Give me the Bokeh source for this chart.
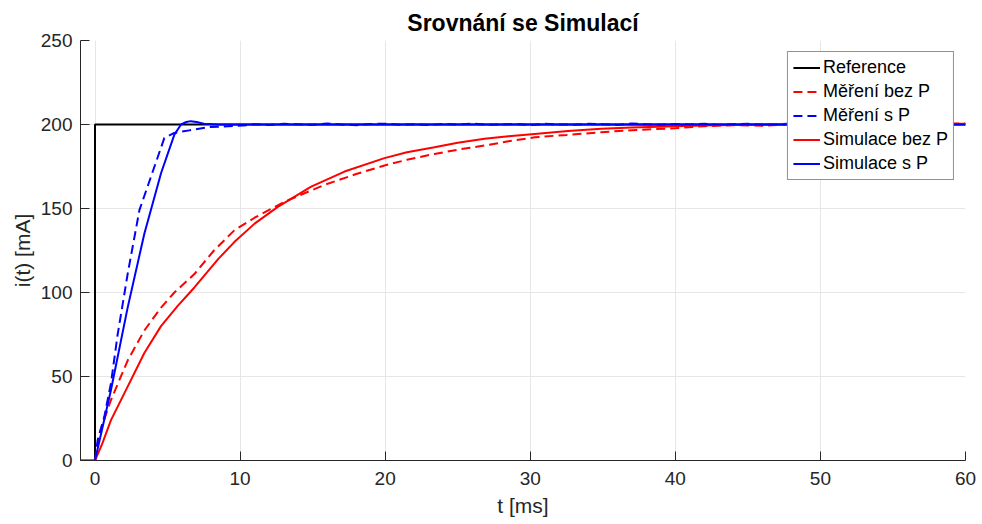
from bokeh.plotting import figure
from bokeh.models import Range1d, FixedTicker, Legend, LegendItem
from bokeh.embed import file_html
from bokeh.resources import INLINE

# ---------------- data ----------------
title_text = "Srovnání se Simulací"
x_label = "t [ms]"
y_label = "i(t) [mA]"
x_ticks = [0, 10, 20, 30, 40, 50, 60]
y_ticks = [0, 50, 100, 150, 200, 250]

ref_t = [-1, 0, 0, 60]
ref_i = [0, 0, 200, 200]

# Měření bez P (measured, without P)
mbez_t = [0, 0.3, 1.1, 2.25, 3.4, 4.55, 5.47, 6.85, 8.2, 9.6, 11, 13.05, 15.8, 18, 19.95,
          21.5, 23.4, 25, 26.85, 28.5, 30.3, 32.5, 34.9, 37, 38.5, 40, 42, 44, 46, 48, 50,
          52, 54, 56, 58, 60]
mbez_i = [0, 16, 36, 59.5, 77.4, 91, 100, 111, 125, 137, 144.5, 154, 164, 170.5, 175.6,
          179.0, 182.5, 185.0, 187.5, 190.0, 192.4, 193.8, 195.4, 196.6, 197.2, 197.8, 199.0,
          199.6, 199.3, 200.1, 199.8, 200.3, 199.9, 200.2, 200.4, 200.6]

# Měření s P (measured, with P)
ms_t = [0, 0.18, 0.64, 1.1, 1.56, 2.25, 3.06, 3.86, 4.78, 5.47, 6.5, 7.8, 9.2, 10.5,
        11, 12, 13, 14, 15, 16, 17, 18, 19, 20, 21, 22, 23, 24, 25, 26, 27, 28, 29, 30,
        31, 32, 33, 34, 35, 36, 37, 38, 39, 40, 41, 42, 43, 44, 45, 46, 47, 48, 49, 50,
        51, 52, 53, 54, 55, 56, 57, 58, 59, 60]
ms_i = [0, 12, 26, 46, 75, 111, 149, 169, 192, 195, 196.5, 198.4, 199, 199.6,
        200.2, 199.7, 200.4, 200.1, 199.8, 200.6, 200.0, 199.6, 200.3, 200.5, 199.9,
        200.2, 199.7, 200.4, 200.0, 200.6, 199.8, 200.1, 200.3, 199.6, 200.5, 200.0,
        199.9, 200.4, 200.2, 199.7, 200.6, 200.1, 199.8, 200.3, 200.0, 200.5, 199.7,
        200.2, 200.4, 199.9, 200.1, 200.6, 199.8, 200.3, 200.0, 199.7, 200.4, 200.2,
        199.9, 200.5, 200.1, 199.8, 200.3, 200.0]

# Simulace bez P
sbez_t = [0, 0.5, 1.1, 2.25, 3.4, 4.55, 5.7, 6.85, 8.5, 9.6, 11, 12.6, 14.9, 17.2, 19.95,
          21.5, 23.4, 25, 26.85, 28.5, 30.3, 32.6, 34.9, 37, 40, 42, 46, 50, 55, 60]
sbez_i = [0, 10, 24, 44, 64, 80, 92, 103, 120, 130, 141, 151, 163, 172, 180,
          183.5, 186.5, 189.2, 191.5, 193.0, 194.4, 196.2, 197.4, 198.2, 198.9, 199.4,
          200, 200, 200.2, 200.5]

# Simulace s P
ss_t = [0, 1.1, 2.25, 3.4, 4.55, 5.47, 5.93, 6.3, 6.6, 7.0, 7.5, 8.5, 10, 60]
ss_i = [0, 42, 91, 135, 171, 194, 200, 201.5, 202, 201.5, 200.5, 200, 200, 200]

# ---------------- figure ----------------
FONT = "Liberation Sans"
TXT = "#262626"

p = figure(frame_width=885, frame_height=420,
           min_border_left=80, min_border_right=17, min_border_top=40, min_border_bottom=64,
           x_range=Range1d(-1, 60), y_range=Range1d(0, 250),
           output_backend="svg", toolbar_location=None,
           background_fill_color="white", border_fill_color="white")
p.outline_line_color = None

p.title.text = title_text
p.title.align = "center"
p.title.text_font = FONT
p.title.text_font_size = "23px"
p.title.text_font_style = "bold"
p.title.text_color = "#000000"
p.title.standoff = 10

for ax, ticks, lab in ((p.xaxis[0], x_ticks, x_label), (p.yaxis[0], y_ticks, y_label)):
    ax.ticker = FixedTicker(ticks=ticks)
    ax.axis_label = lab
    ax.axis_label_text_font = FONT
    ax.axis_label_text_font_size = "21px"
    ax.axis_label_text_font_style = "normal"
    ax.axis_label_text_color = TXT
    ax.major_label_text_font = FONT
    ax.major_label_text_font_size = "19px"
    ax.major_label_text_color = TXT
    ax.axis_line_color = TXT
    ax.major_tick_line_color = TXT
    ax.major_tick_in = 9
    ax.major_tick_out = 0
    ax.minor_tick_line_color = None

p.xaxis.major_label_standoff = 11
p.xaxis.axis_label_standoff = 6
p.yaxis.major_label_standoff = 8
p.yaxis.axis_label_standoff = 4

p.xgrid.ticker = FixedTicker(ticks=x_ticks)
p.ygrid.ticker = FixedTicker(ticks=y_ticks)
p.grid.grid_line_color = "#e6e6e6"
p.grid.grid_line_width = 1

W = 2
r_ref = p.line(ref_t, ref_i, line_color="black", line_width=W)
r_mbez = p.line(mbez_t, mbez_i, line_color="#ff0000", line_width=W, line_dash="9 5")
r_ms = p.line(ms_t, ms_i, line_color="#0000ff", line_width=W, line_dash="9 5")
r_sbez = p.line(sbez_t, sbez_i, line_color="#ff0000", line_width=W)
r_ss = p.line(ss_t, ss_i, line_color="#0000ff", line_width=W)

legend = Legend(items=[
    LegendItem(label="Reference", renderers=[r_ref]),
    LegendItem(label="Měření bez P", renderers=[r_mbez]),
    LegendItem(label="Měření s P", renderers=[r_ms]),
    LegendItem(label="Simulace bez P", renderers=[r_sbez]),
    LegendItem(label="Simulace s P", renderers=[r_ss]),
], location="top_right")
legend.margin = 11
legend.padding = 5
legend.spacing = 3
legend.glyph_height = 21
legend.label_height = 21
legend.glyph_width = 27
legend.label_standoff = 3
legend.label_text_font = FONT
legend.label_text_font_size = "18px"
legend.label_text_color = "#000000"
legend.border_line_color = TXT
legend.border_line_width = 1
legend.background_fill_color = "white"
legend.background_fill_alpha = 1
p.add_layout(legend, "center")

open("out.html", "w").write(file_html(p, INLINE))
